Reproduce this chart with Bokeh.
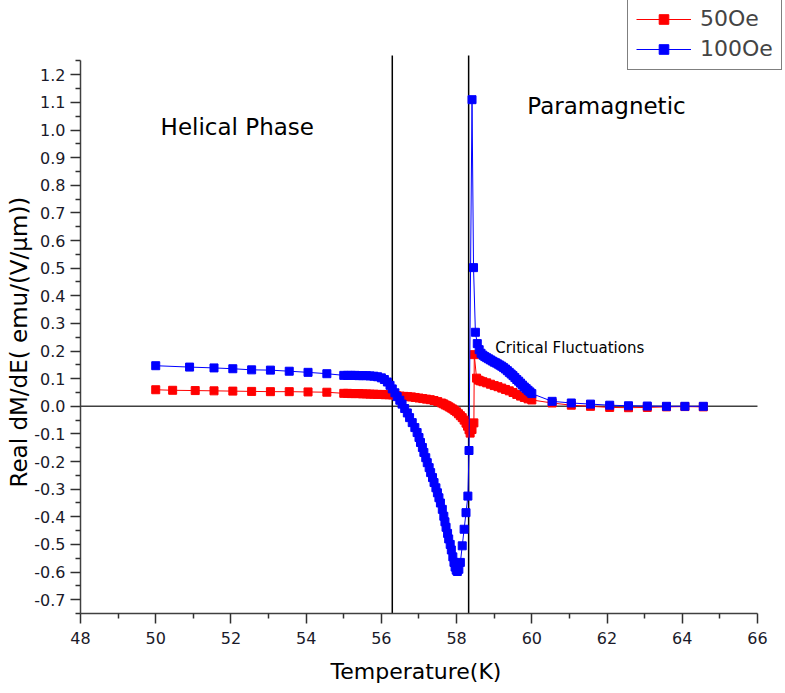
from bokeh.plotting import figure
from bokeh.models import (Range1d, FixedTicker, Legend, LegendItem, Label, Title)
from bokeh.embed import file_html
from bokeh.resources import INLINE

# ---------------- data ----------------
T_50 = [50.0, 50.45, 51.05, 51.55, 52.05, 52.55, 53.05, 53.55, 54.05, 54.55,
        55.0, 55.1, 55.2, 55.3, 55.4, 55.5, 55.6, 55.7, 55.8, 55.9, 56.0, 56.1,
        56.2, 56.3, 56.4, 56.5, 56.6, 56.7, 56.8, 56.9, 57.0, 57.1, 57.2, 57.3,
        57.4, 57.5, 57.6, 57.65, 57.7, 57.75, 57.8, 57.85, 57.9, 57.95, 58.0,
        58.05, 58.1, 58.15, 58.2, 58.25, 58.29, 58.33, 58.36, 58.41, 58.46,
        58.47, 58.53, 58.58, 58.63, 58.7, 58.8, 58.9, 59.0, 59.1, 59.2, 59.3,
        59.4, 59.5, 59.6, 59.7, 59.8, 59.9, 60.0,
        60.54, 61.05, 61.56, 62.07, 62.57, 63.07, 63.58, 64.07, 64.56]
Y_50 = [0.060, 0.058, 0.057, 0.056, 0.055, 0.054, 0.053, 0.053, 0.052, 0.051,
        0.047, 0.047, 0.046, 0.046, 0.046, 0.045, 0.045, 0.044, 0.044, 0.043, 0.043, 0.042,
        0.042, 0.041, 0.039, 0.037, 0.036, 0.035, 0.034, 0.032, 0.030, 0.028, 0.026, 0.024,
        0.021, 0.017, 0.012, 0.009, 0.005, 0.002, -0.002, -0.006, -0.010, -0.015, -0.020,
        -0.027, -0.034, -0.041, -0.050, -0.061, -0.072, -0.085, -0.097, -0.084, -0.060,
        0.187, 0.102, 0.095, 0.092, 0.089, 0.085, 0.080, 0.075, 0.071, 0.066, 0.061,
        0.056, 0.050, 0.043, 0.037, 0.032, 0.027, 0.023,
        0.012, 0.004, 0.000, -0.004, -0.005, -0.004, -0.002, -0.001, -0.002]

T_100 = [50.0, 50.9, 51.55, 52.05, 52.55, 53.05, 53.55, 54.05, 54.55,
         55.0, 55.1, 55.2, 55.3, 55.4, 55.5, 55.6, 55.7, 55.8, 55.9, 56.0, 56.08,
         56.16, 56.23, 56.29, 56.36, 56.42, 56.49, 56.55, 56.62, 56.69, 56.75,
         56.82, 56.89, 56.95, 57.0, 57.04, 57.09, 57.13, 57.18, 57.22, 57.27,
         57.31, 57.36, 57.40, 57.45, 57.49, 57.53, 57.57, 57.62, 57.66, 57.69,
         57.72, 57.76, 57.79, 57.83, 57.86, 57.90, 57.93, 57.96, 57.99, 58.02,
         58.06, 58.10, 58.15, 58.20, 58.25, 58.30, 58.33, 58.41, 58.45, 58.50,
         58.55, 58.60, 58.65, 58.70, 58.75, 58.80, 58.85, 58.90, 58.95, 59.00,
         59.05, 59.10, 59.15, 59.20, 59.25, 59.30, 59.35, 59.40, 59.45, 59.50,
         59.55, 59.60, 59.65, 59.70, 59.75, 59.80, 59.85, 59.90, 59.95, 60.00,
         60.54, 61.05, 61.56, 62.07, 62.57, 63.07, 63.58, 64.07, 64.56]
Y_100 = [0.147, 0.142, 0.139, 0.136, 0.132, 0.131, 0.127, 0.123, 0.118,
         0.112, 0.112, 0.112, 0.112, 0.111, 0.111, 0.111, 0.110, 0.109, 0.107, 0.103, 0.097,
         0.088, 0.076, 0.063, 0.049, 0.035, 0.022, 0.008, -0.008, -0.024, -0.041,
         -0.059, -0.077, -0.095, -0.113, -0.131, -0.149, -0.167, -0.186, -0.204, -0.222,
         -0.240, -0.258, -0.276, -0.295, -0.313, -0.331, -0.350, -0.373, -0.398, -0.418,
         -0.438, -0.460, -0.480, -0.500, -0.520, -0.545, -0.565, -0.582, -0.593, -0.598,
         -0.590, -0.565, -0.505, -0.445, -0.385, -0.325, -0.160, 1.110, 0.502, 0.268,
         0.227, 0.205, 0.192, 0.185, 0.180, 0.176, 0.172, 0.168, 0.164, 0.160,
         0.157, 0.153, 0.149, 0.145, 0.140, 0.135, 0.129, 0.123, 0.117, 0.111,
         0.104, 0.097, 0.091, 0.084, 0.077, 0.070, 0.064, 0.058, 0.052, 0.046,
         0.018, 0.012, 0.008, 0.004, 0.002, 0.001, 0.000, 0.000, 0.000]

x_ticks = [48, 50, 52, 54, 56, 58, 60, 62, 64, 66]
y_ticks = [-0.7, -0.6, -0.5, -0.4, -0.3, -0.2, -0.1, 0.0, 0.1, 0.2, 0.3, 0.4,
           0.5, 0.6, 0.7, 0.8, 0.9, 1.0, 1.1, 1.2]
y_tick_labels = ["%.1f" % v for v in y_ticks]
phase_boundaries = [56.29, 58.32]

X_MIN, X_MAX = 48, 66          # axis extent
Y_MIN, Y_MAX = -0.75, 1.25     # axis extent
LINE_TOP = 1.27                # phase-boundary lines go slightly above the axis

FONT = "DejaVu Sans"

# frame spans the full upper-right area so the legend is not clipped
p = figure(width=785, height=693, output_backend="svg", toolbar_location=None,
           x_range=Range1d(X_MIN, 66.745), y_range=Range1d(Y_MIN, 1.469),
           min_border_left=80, min_border_right=0, min_border_top=0,
           min_border_bottom=80)
p.outline_line_color = None
p.xgrid.visible = False
p.ygrid.visible = False
p.background_fill_color = "white"
p.border_fill_color = "white"

# axes
xa = p.xaxis[0]
xa.ticker = FixedTicker(ticks=x_ticks, minor_ticks=[v + 1 for v in x_ticks[:-1]])
xa.bounds = (X_MIN, X_MAX)
ya = p.yaxis[0]
ya.ticker = FixedTicker(ticks=y_ticks,
                        minor_ticks=[round(v + 0.05, 2) for v in y_ticks] + [-0.75])
ya.major_label_overrides = {v: s for v, s in zip(y_ticks, y_tick_labels)}
ya.bounds = (Y_MIN, Y_MAX)
for ax in (xa, ya):
    ax.axis_line_color = "#404040"
    ax.axis_line_width = 1.5
    ax.major_tick_line_color = "#303030"
    ax.minor_tick_line_color = "#303030"
    ax.major_tick_line_width = 1.5
    ax.minor_tick_line_width = 1.5
    ax.major_tick_in = 0
    ax.minor_tick_in = 0
    ax.major_tick_out = 10
    ax.minor_tick_out = 5
    ax.major_label_text_font = FONT
    ax.major_label_text_font_size = "16px"
    ax.major_label_text_color = "#1a1a2a"
xa.major_label_standoff = 8
ya.major_label_standoff = 5

# axis titles placed relative to the axis span (not the extended frame)
xtitle = Title(text="Temperature(K)", align="left", offset=250, standoff=20,
               text_font=FONT, text_font_size="22px", text_font_style="normal",
               text_color="black")
p.add_layout(xtitle, "below")
ytitle = Title(text="Real dM/dE( emu/(V/\u03bcm))", align="left", offset=126,
               standoff=0, text_font=FONT, text_font_size="23px",
               text_font_style="normal", text_color="black")
p.add_layout(ytitle, "left")

# reference lines
p.segment(x0=[X_MIN], y0=[0], x1=[X_MAX], y1=[0], line_color="#404040", line_width=1.5)
p.segment(x0=phase_boundaries, y0=[Y_MIN] * len(phase_boundaries),
          x1=phase_boundaries, y1=[LINE_TOP] * len(phase_boundaries),
          line_color="black", line_width=1.5)

# series
rl50 = p.line(T_50, Y_50, line_color="#ff0000", line_width=1)
rs50 = p.scatter(T_50, Y_50, marker="square", size=8, fill_color="#ff0000",
                 line_color="#ff0000")
rl100 = p.line(T_100, Y_100, line_color="#0000ff", line_width=1)
rs100 = p.scatter(T_100, Y_100, marker="square", size=8, fill_color="#0000ff",
                  line_color="#0000ff")

# annotations
p.add_layout(Label(x=50.13, y=1.012, text="Helical Phase", text_font=FONT,
                   text_font_size="23px", text_baseline="middle", text_color="black"))
p.add_layout(Label(x=59.88, y=1.088, text="Paramagnetic", text_font=FONT,
                   text_font_size="23px", text_baseline="middle", text_color="black"))
p.add_layout(Label(x=59.03, y=0.212, text="Critical Fluctuations", text_font=FONT,
                   text_font_size="15px", text_baseline="middle", text_color="black"))

legend = Legend(items=[LegendItem(label="50Oe", renderers=[rl50, rs50]),
                       LegendItem(label="100Oe", renderers=[rl100, rs100])],
                location=(547, 543))
legend.border_line_color = "black"
legend.border_line_width = 1
legend.background_fill_color = "white"
legend.background_fill_alpha = 1
legend.margin = 0
legend.padding = 8
legend.spacing = 5
legend.glyph_width = 55
legend.glyph_height = 24
legend.label_height = 24
legend.label_standoff = 9
legend.label_text_font = FONT
legend.label_text_font_size = "22px"
p.add_layout(legend)

open("out.html", "w").write(file_html(p, INLINE))
